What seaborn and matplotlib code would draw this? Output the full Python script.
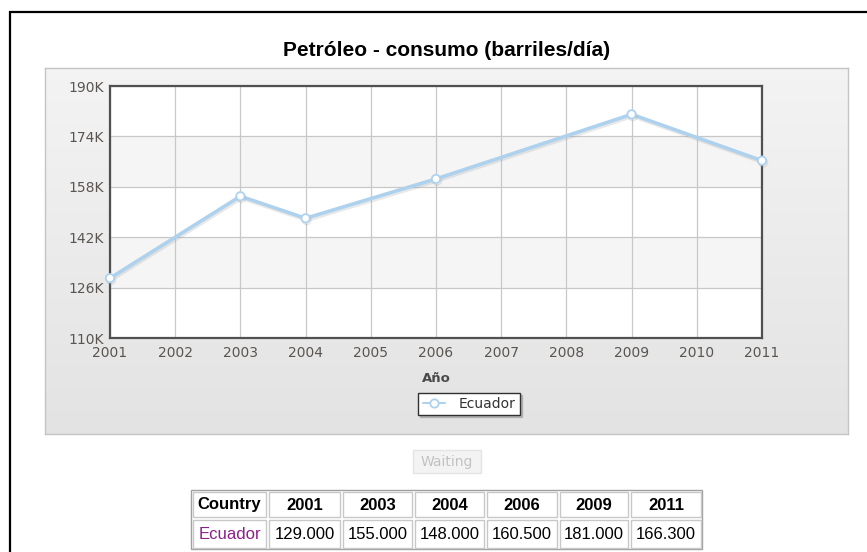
import numpy as np
import pandas as pd
import matplotlib
matplotlib.use("Agg")
import matplotlib.pyplot as plt
import matplotlib.patheffects as pe
from matplotlib.patches import Rectangle
from matplotlib.ticker import FuncFormatter
import seaborn as sns

# ---- data ----
title = "Petróleo - consumo (barriles/día)"
country = "Ecuador"
years = [2001, 2003, 2004, 2006, 2009, 2011]
values = [129000, 155000, 148000, 160500, 181000, 166300]
x_ticks = list(range(2001, 2012))
y_ticks = [110000, 126000, 142000, 158000, 174000, 190000]
x_label = "Año"
button_text = "Waiting"
table_header = "Country"

sns.set_style("white")
plt.rcParams['font.family'] = ['DejaVu Sans']

W, H = 867, 552
fig = plt.figure(figsize=(W / 100, H / 100), dpi=100)
fig.patch.set_facecolor("white")

def fx(x):
    return x / W

def fy(y):
    return 1 - y / H

def rect_fig(x0, y0, x1, y1, **kw):
    r = Rectangle((fx(x0), fy(y1)), fx(x1) - fx(x0), fy(y0) - fy(y1),
                  transform=fig.transFigure, **kw)
    fig.patches.append(r)
    return r

# outer black frame
rect_fig(10, 12, 880, 570, fill=False, edgecolor="black", linewidth=1.6, zorder=0)

# gradient panel
pan = fig.add_axes([fx(45), fy(434), fx(848) - fx(45), fy(68) - fy(434)], zorder=0)
grad = np.linspace(0, 1, 256).reshape(-1, 1)
c0 = np.array([0.955, 0.955, 0.955])
c1 = np.array([0.89, 0.89, 0.89])
img = c0[None, None, :] * (1 - grad[:, :, None]) + c1[None, None, :] * grad[:, :, None]
pan.imshow(img, aspect="auto", extent=[0, 1, 0, 1])
pan.set_xticks([]); pan.set_yticks([])
for s in pan.spines.values():
    s.set_edgecolor("#c4c4c4")
    s.set_linewidth(1.0)

# title
fig.text(fx(447), fy(51), title, ha="center", va="center", fontsize=15,
         fontweight="bold", family="Liberation Sans", color="black")

# main axes
ax = fig.add_axes([fx(110), fy(338), fx(762) - fx(110), fy(86) - fy(338)], zorder=2)
ax.set_facecolor("white")
for i in range(len(y_ticks) - 1):
    if i % 2 == 1:
        ax.axhspan(y_ticks[i], y_ticks[i + 1], color="#f5f5f5", zorder=0, lw=0)

line_color = "#aed2ee"
df = pd.DataFrame({"year": years, "value": values})
sns.lineplot(data=df, x="year", y="value", ax=ax, color=line_color, linewidth=2.6,
             marker="o", markersize=6, markerfacecolor="white",
             markeredgecolor=line_color, markeredgewidth=1.3, label=country,
             zorder=5, clip_on=False)
ln = ax.lines[-1]
ln.set_path_effects([pe.SimpleLineShadow(offset=(0.8, -1.4), shadow_color="#999999", alpha=0.22),
                     pe.Normal()])

ax.set_xlim(x_ticks[0], x_ticks[-1])
ax.set_ylim(y_ticks[0], y_ticks[-1])
ax.set_xticks(x_ticks)
ax.set_yticks(y_ticks)
ax.yaxis.set_major_formatter(FuncFormatter(lambda v, p: f"{int(v / 1000)}K"))
ax.grid(True, color="#c8c8c8", linewidth=0.9, zorder=1)
ax.set_axisbelow(True)
ax.tick_params(axis="both", length=0, labelsize=10, labelcolor="#5a5550")
ax.tick_params(axis="x", pad=6)
ax.tick_params(axis="y", pad=4.5)
for s in ax.spines.values():
    s.set_visible(True)
    s.set_edgecolor("#505050")
    s.set_linewidth(1.6)
ax.set_xlabel("")
ax.set_ylabel("")

fig.text(fx(436), fy(378), x_label, ha="center", va="center", fontsize=9.5,
         fontweight="bold", color="#4a4a4a")

leg = ax.legend(loc="center", bbox_to_anchor=(fx(469), fy(404)),
                bbox_transform=fig.transFigure, frameon=True, fancybox=False,
                shadow={"ox": 1.5, "oy": -1.5, "color": "#9a9a9a", "alpha": 0.6},
                edgecolor="#303030", facecolor="white",
                fontsize=10, handlelength=1.6, borderpad=0.3,
                handletextpad=1.0, borderaxespad=0)
leg.get_frame().set_linewidth(1.0)
for t in leg.get_texts():
    t.set_color("#333333")
for h in leg.get_lines():
    h.set_linewidth(1.5)
    h.set_path_effects([])

# Waiting button
rect_fig(413, 450, 481, 473, facecolor="#f3f3f3", edgecolor="#e4e4e4", linewidth=1.0, zorder=1)
fig.text(fx(447), fy(462), button_text, ha="center", va="center", fontsize=10,
         color="#c2c2c2")

# table
col_edges = [191, 267, 341, 413, 485, 558, 629, 702]
row_edges = [490, 518, 549]
rect_fig(col_edges[0], row_edges[0], col_edges[-1], row_edges[-1], fill=False,
         edgecolor="#a0a0a0", linewidth=1.0, zorder=1)
header = [table_header] + [str(y) for y in years]
row = [country] + [f"{v:,.0f}".replace(",", ".") for v in values]
for r, cells in enumerate([header, row]):
    for c, txt in enumerate(cells):
        x0, x1 = col_edges[c], col_edges[c + 1]
        y0, y1 = row_edges[r], row_edges[r + 1]
        rect_fig(x0 + 2, y0 + 2, x1 - 1, y1 - 1, fill=False, edgecolor="#c8c8c8",
                 linewidth=1.0, zorder=1)
        color = "black"
        if r == 1 and c == 0:
            color = "#8b1f8b"
        fig.text(fx((x0 + x1) / 2 + 0.5), fy((y0 + y1) / 2 + 1), txt, ha="center",
                 va="center", fontsize=12, family="Liberation Sans",
                 fontweight="bold" if r == 0 else "normal", color=color)

fig.savefig("out.png", dpi=100)
